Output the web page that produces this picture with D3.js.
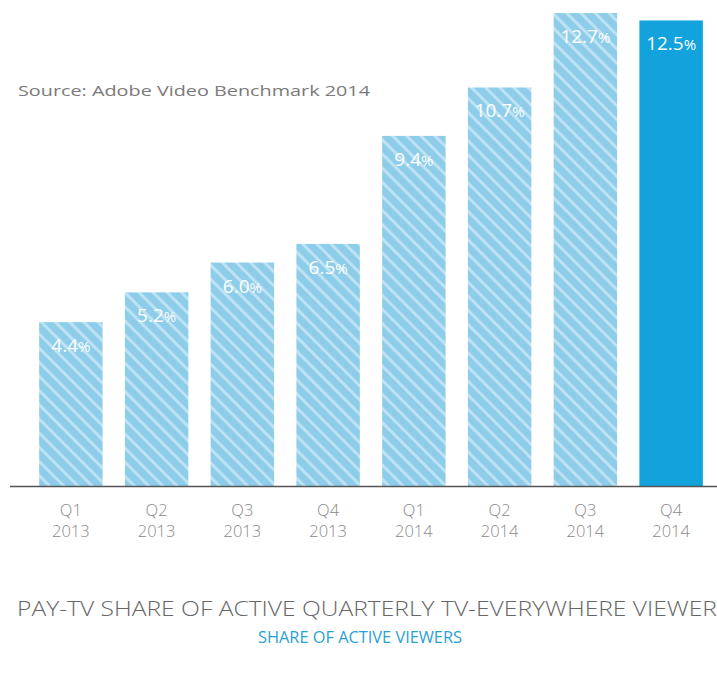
<!DOCTYPE html>
<html>
<head>
<meta charset="utf-8">
<script src="https://cdn.jsdelivr.net/npm/d3@7"></script>
<style>
  body { margin: 0; background: #fff; }
  svg { display: block; }
</style>
</head>
<body>
<div id="chart"></div>
<script>
var quarters = ['Q1', 'Q2', 'Q3', 'Q4', 'Q1', 'Q2', 'Q3', 'Q4'];
var years = ['2013', '2013', '2013', '2013', '2014', '2014', '2014', '2014'];
var shares = [4.4, 5.2, 6.0, 6.5, 9.4, 10.7, 12.7, 12.5];
var share_labels = ['4.4', '5.2', '6.0', '6.5', '9.4', '10.7', '12.7', '12.5'];

var width = 717, height = 674;
var baseline = 486;

var svg = d3.select('#chart').append('svg')
    .attr('width', width)
    .attr('height', height);

// diagonal hatch for the past quarters
var pattern = svg.append('defs').append('pattern')
    .attr('id', 'hatch')
    .attr('patternUnits', 'userSpaceOnUse')
    .attr('width', 10)
    .attr('height', 10)
    .attr('patternTransform', 'rotate(-45)');
pattern.append('rect')
    .attr('width', 10)
    .attr('height', 10)
    .attr('fill', '#8ecdea');
pattern.append('rect')
    .attr('x', 0)
    .attr('width', 3)
    .attr('height', 10)
    .attr('fill', '#bce2f3');

var x = d3.scaleBand()
    .domain(d3.range(shares.length))
    .range([28, 714])
    .paddingInner(0.26)
    .paddingOuter(0.13);

var y = d3.scaleLinear()
    .domain([0, 12.7])
    .range([baseline, 13]);

svg.selectAll('rect.bar')
    .data(shares)
    .enter().append('rect')
    .attr('class', 'bar')
    .attr('x', function(d, i) { return x(i); })
    .attr('y', function(d) { return y(d); })
    .attr('width', x.bandwidth())
    .attr('height', function(d) { return baseline - y(d); })
    .attr('fill', function(d, i) {
        return i === shares.length - 1 ? '#12a2dc' : 'url(#hatch)';
    });

// value labels
var labels = svg.selectAll('text.value')
    .data(shares)
    .enter().append('text')
    .attr('class', 'value')
    .attr('x', function(d, i) { return x(i) + x.bandwidth() / 2; })
    .attr('y', function(d) { return y(d) + 30; })
    .attr('text-anchor', 'middle')
    .attr('fill', '#fff')
    .style('font-family', 'Open Sans, sans-serif')
    .style('font-size', '19px');
labels.append('tspan')
    .text(function(d, i) { return share_labels[i]; });
labels.append('tspan')
    .style('font-size', '15px')
    .text('%');

// axis line
svg.append('line')
    .attr('x1', 10)
    .attr('x2', width)
    .attr('y1', baseline + 0.5)
    .attr('y2', baseline + 0.5)
    .attr('stroke', '#555')
    .attr('stroke-width', 1.5);

var ticks = svg.selectAll('g.tick')
    .data(quarters)
    .enter().append('g')
    .attr('class', 'tick')
    .attr('transform', function(d, i) {
        return 'translate(' + (x(i) + x.bandwidth() / 2) + ',0)';
    })
    .style('font-family', 'Open Sans, sans-serif')
    .style('font-weight', '300')
    .style('font-size', '16.5px')
    .attr('fill', '#8a8a8a')
    .attr('text-anchor', 'middle');
ticks.append('text')
    .attr('y', 516)
    .text(function(d) { return d; });
ticks.append('text')
    .attr('y', 537)
    .text(function(d, i) { return years[i]; });

svg.append('text')
    .attr('x', 18)
    .attr('y', 96)
    .attr('fill', '#7a7a7a')
    .style('font-family', 'Open Sans, sans-serif')
    .style('font-size', '15px')
    .attr('textLength', 352)
    .attr('lengthAdjust', 'spacingAndGlyphs')
    .text('Source: Adobe Video Benchmark 2014');

svg.append('text')
    .attr('x', 17)
    .attr('y', 616)
    .attr('fill', '#666')
    .style('font-family', 'Open Sans, sans-serif')
    .style('font-weight', '300')
    .style('font-size', '21px')
    .attr('textLength', 700)
    .attr('lengthAdjust', 'spacingAndGlyphs')
    .text('PAY-TV SHARE OF ACTIVE QUARTERLY TV-EVERYWHERE VIEWER');

svg.append('text')
    .attr('x', 360)
    .attr('y', 643)
    .attr('text-anchor', 'middle')
    .attr('fill', '#2a9fd4')
    .style('font-family', 'Open Sans, sans-serif')
    .style('font-size', '16px')
    .attr('textLength', 204)
    .attr('lengthAdjust', 'spacingAndGlyphs')
    .text('SHARE OF ACTIVE VIEWERS');
</script>
</body>
</html>
